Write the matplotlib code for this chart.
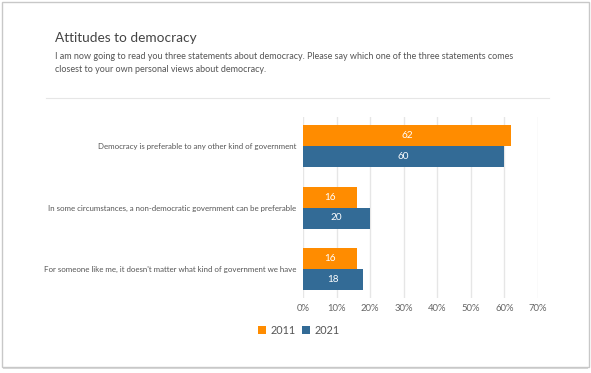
import matplotlib
matplotlib.use("Agg")
import matplotlib.pyplot as plt
from matplotlib.patches import Rectangle
from matplotlib.lines import Line2D
import numpy as np

categories = [
    "Democracy is preferable to any other kind of government",
    "In some circumstances, a non-democratic government can be preferable",
    "For someone like me, it doesn't matter what kind of government we have",
]
series_names = ["2011", "2021"]
values_2011 = [62, 16, 16]
values_2021 = [60, 20, 18]
xticks = [0, 10, 20, 30, 40, 50, 60, 70]
xtick_labels = ["0%", "10%", "20%", "30%", "40%", "50%", "60%", "70%"]

title = "Attitudes to democracy"
subtitle = ("I am now going to read you three statements about democracy. Please say which one of the three statements comes\n"
            "closest to your own personal views about democracy.")

ORANGE = "#FF8C00"
BLUE = "#336B96"
TXT = "#555555"
FONT = ["Lato", "DejaVu Sans"]
plt.rcParams["font.family"] = FONT

W, H = 591, 373
fig = plt.figure(figsize=(W / 100, H / 100), dpi=100)
fig.patch.set_facecolor("white")

def fx(px):
    return px / W

def fy(py):
    return 1 - py / H

# card border with shadow
fig.patches.append(Rectangle((fx(3), fy(369)), fx(588) - fx(3), fy(3) - fy(369),
                             transform=fig.transFigure, facecolor="#d9d9d9", edgecolor="none", zorder=-2))
fig.patches.append(Rectangle((fx(2), fy(367)), fx(589) - fx(2), fy(2) - fy(367),
                             transform=fig.transFigure, facecolor="white", edgecolor="#c8c8c8", lw=1.0, zorder=-1))

fig.text(fx(55), fy(38.5), title, fontsize=9.8, color="#444444", va="center", ha="left")
fig.text(fx(55), fy(63), subtitle, fontsize=6.5, color="#555555", va="center", ha="left", linespacing=1.7)
fig.add_artist(Line2D([fx(46), fx(549)], [fy(98), fy(98)], transform=fig.transFigure, color="#e6e6e6", lw=0.8))

# axes: 0% at x=303, 70% at x=538; category centres y=146, 207.5, 269 (61.5 px per category)
x0, x1 = 303, 538
ytop, ybot = 117, 298
ax = fig.add_axes([fx(x0), fy(ybot), fx(x1) - fx(x0), fy(ytop) - fy(ybot)])
ax.set_zorder(2)
ax.set_xlim(0, 70)
ypos = np.arange(len(categories)) * 1.0
ax.set_ylim(2 + (ybot - 269) / 61.5, -(146 - ytop) / 61.5)
bh = 21 / 61.5
b1 = ax.barh(ypos - bh / 2, values_2011, height=bh, color=ORANGE, zorder=3)
b2 = ax.barh(ypos + bh / 2, values_2021, height=bh, color=BLUE, zorder=3)
for bars, vals in ((b1, values_2011), (b2, values_2021)):
    for rect, v in zip(bars, vals):
        ax.text(v / 2, rect.get_y() + rect.get_height() / 2, str(v), ha="center", va="center",
                color="white", fontsize=7.2, zorder=4)

ax.set_xticks(xticks)
ax.set_xticklabels(xtick_labels, fontsize=6.8, color="#666666")
ax.set_yticks(ypos)
ax.set_yticklabels(categories, fontsize=5.65, color=TXT)
ax.tick_params(axis="both", length=0, pad=5)
ax.tick_params(axis="x", pad=4)
ax.grid(axis="x", color="#e6e6e6", lw=1.0, zorder=0)
for s in ax.spines.values():
    s.set_visible(False)
ax.set_facecolor("none")

# legend
for px, col, name in ((258, ORANGE, series_names[0]), (302, BLUE, series_names[1])):
    fig.patches.append(Rectangle((fx(px), fy(334)), fx(8), fy(326) - fy(334), transform=fig.transFigure,
                                 facecolor=col, edgecolor="none", zorder=2))
    fig.text(fx(px + 13), fy(330), name, fontsize=7.8, color="#555555", va="center", ha="left")

fig.savefig("out.png", dpi=100, facecolor="white")
